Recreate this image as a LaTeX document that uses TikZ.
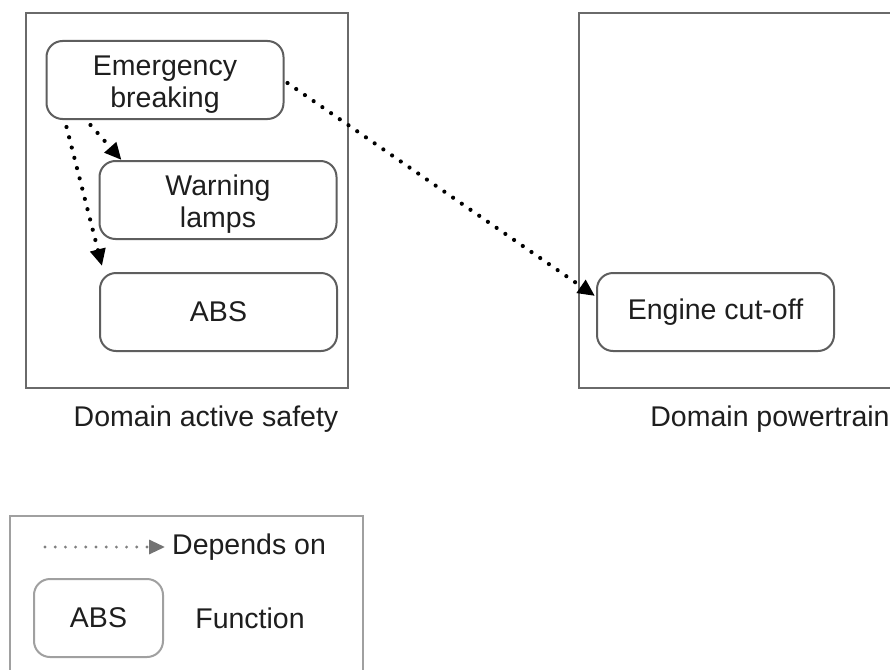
\documentclass[tikz,border=0pt]{standalone}
\usepackage{fontspec}
\setmainfont{Liberation Sans}
\usetikzlibrary{arrows.meta,calc}
\definecolor{boxgray}{HTML}{5E5E5E}
\definecolor{domgray}{HTML}{6A6A6A}
\definecolor{leggray}{HTML}{A0A0A0}
\definecolor{txt}{HTML}{1E1E1E}
\definecolor{dotgray}{HTML}{808080}
\newcommand{\topstrut}{\rule{0pt}{28.5pt}}
\begin{document}
\begin{tikzpicture}[x=1pt,y=-1pt,
  funcbox/.style={draw=boxgray, line width=2pt, rounded corners=16pt, minimum width=237pt, minimum height=78pt, align=center, font=\fontsize{28.5}{32}\selectfont, text=txt, inner sep=0pt},
  domainbox/.style={draw=domgray, line width=2.2pt},
  depline/.style={line width=4.2pt, dash pattern=on 0pt off 10.6pt, line cap=round, -{Triangle[length=17pt,width=15pt]}},
  lbltext/.style={font=\fontsize{28.5}{32}\selectfont, text=txt, inner sep=0pt}]
\clip (0,0) rectangle (890,669);
\fill[white] (0,0) rectangle (890,669);
% domains
\draw[domainbox] (26,13) rectangle (348,388);
\draw[domainbox] (579,13) rectangle (905,388);
\node[lbltext] (lda) at (206,419) {Domain active safety};
\node[lbltext] (ldp) at (770,419) {Domain powertrain};
% functions
\node[funcbox] (eb) at (165,80) {\topstrut Emergency\\breaking};
\node[funcbox] (wl) at (218,200) {\topstrut Warning\\lamps};
\node[funcbox] (abs) at (218.5,312) {ABS};
\node[funcbox] (eng) at (715.5,312) {Engine cut-off};
% dependencies
\draw[depline] ($(eb.south west)+(45,5)$) -- ($(wl.north west)+(23,0)$);
\draw[depline] ($(eb.south west)+(21,7)$) -- ($(abs.north west)+(3,-6)$);
\draw[depline] ($(eb.east)+(3,3)$) -- ($(eng.north west)+(-1,24)$);
% legend
\draw[draw=leggray, line width=2pt] (10,516) rectangle (363,700);
\node[lbltext, anchor=west] (ldep) at (172,547) {Depends on};
\coordinate (lstart) at (45,547);
\draw[draw=dotgray, line width=3.2pt, dash pattern=on 0pt off 10.2pt, line cap=round,
  -{Triangle[length=16pt,width=14pt,color=dotgray!90!black]}] (lstart) -- ($(ldep.west)+(-7,0)$);
\node[funcbox, draw=leggray, minimum width=129pt, minimum height=78pt] (labs) at (98.5,618) {ABS};
\node[lbltext] (lfun) at (250,618) {Function};
\end{tikzpicture}
\end{document}
